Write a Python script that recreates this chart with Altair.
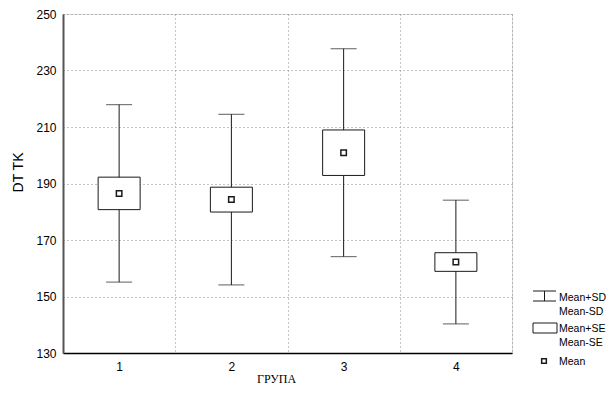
import altair as alt
import pandas as pd

groups = ["1", "2", "3", "4"]
means = [186.5, 184.3, 200.9, 162.2]
se = [5.75, 4.4, 8.05, 3.3]
sd = [31.4, 30.2, 36.8, 21.9]
y_ticks = [130, 150, 170, 190, 210, 230, 250]
legend_sd = ["Mean+SD", "Mean-SD"]
legend_se = ["Mean+SE", "Mean-SE"]
legend_mean = ["Mean"]

df = pd.DataFrame({"group": groups, "mean": means, "se": se, "sd": sd})
df["sd_lo"] = df["mean"] - df["sd"]
df["sd_hi"] = df["mean"] + df["sd"]
df["se_lo"] = df["mean"] - df["se"]
df["se_hi"] = df["mean"] + df["se"]

INK = "#1a1a1a"
FONT = "Liberation Sans"

xscale = alt.Scale(domain=groups, paddingInner=0, paddingOuter=0)
yscale = alt.Scale(domain=[130, 250], nice=False, zero=False)

x_axis = alt.Axis(
    title="ГРУПА", titleFont="Liberation Serif", titleFontSize=12, titleFontWeight="normal",
    titleColor="#000", titleX=213, titleY=25, titleBaseline="middle", titleAlign="center",
    labelAngle=0, labelFont=FONT, labelFontSize=12, labelColor="#000", labelPadding=8,
    ticks=False, tickBand="extent", grid=True, gridDash=[1, 3], gridColor="#888",
    gridWidth=1, domain=True, domainColor="#000", domainWidth=1.5,
)
y_axis = alt.Axis(
    title="DT TK", titleFont=FONT, titleFontSize=14, titleFontWeight="normal",
    titleColor="#000", titleX=-45, titleY=158, titleAngle=270, titleBaseline="middle",
    titleAlign="center",
    values=y_ticks, labelFont=FONT, labelFontSize=12, labelColor="#000", labelPadding=7,
    ticks=False, grid=True, gridDash=[1, 3], gridColor="#888", gridWidth=1,
    domain=True, domainColor="#555", domainWidth=2,
)

base = alt.Chart(df)

def X():
    return alt.X("group:N", scale=xscale, axis=x_axis)

def Y(field):
    return alt.Y(field, scale=yscale, axis=y_axis)

whisker = base.mark_rule(color=INK, strokeWidth=1).encode(
    x=X(), y=Y("sd_lo:Q"), y2="sd_hi:Q",
)
cap_hi = base.mark_tick(color=INK, size=26, thickness=1, orient="horizontal").encode(
    x=X(), y=Y("sd_hi:Q"),
)
cap_lo = base.mark_tick(color=INK, size=26, thickness=1, orient="horizontal").encode(
    x=X(), y=Y("sd_lo:Q"),
)
box = base.mark_bar(size=42, fill="white", stroke=INK, strokeWidth=1).encode(
    x=X(), y=Y("se_lo:Q"), y2="se_hi:Q",
)
mean_pt = base.mark_point(shape="square", size=30, filled=False, color=INK,
                          strokeWidth=1.5, opacity=1).encode(
    x=X(), y=Y("mean:Q"),
)

# legend (drawn at the right of the plot area)
one = pd.DataFrame({"k": [0]})
lg_ibeam_top = alt.Chart(one).mark_rule(color=INK, strokeWidth=1).encode(
    x=alt.value(470), x2=alt.value(493), y=alt.value(277))
lg_ibeam_bot = alt.Chart(one).mark_rule(color=INK, strokeWidth=1).encode(
    x=alt.value(470), x2=alt.value(493), y=alt.value(287))
lg_ibeam_mid = alt.Chart(one).mark_rule(color=INK, strokeWidth=1).encode(
    x=alt.value(481.5), y=alt.value(277), y2=alt.value(287))
lg_box = alt.Chart(one).mark_rect(fill="white", stroke=INK, strokeWidth=1).encode(
    x=alt.value(470), x2=alt.value(494), y=alt.value(309), y2=alt.value(319))
lg_mean = alt.Chart(one).mark_point(shape="square", size=22, filled=False, color=INK,
                                    strokeWidth=1.5, opacity=1).encode(
    x=alt.value(481), y=alt.value(347))

def lg_text(label, ypos):
    return alt.Chart(pd.DataFrame({"label": [label]})).mark_text(
        align="left", baseline="middle", font=FONT, fontSize=10.5, color="#000"
    ).encode(x=alt.value(496), y=alt.value(ypos), text="label:N")

texts = [
    lg_text(legend_sd[0], 284), lg_text(legend_sd[1], 298),
    lg_text(legend_se[0], 315), lg_text(legend_se[1], 329),
    lg_text(legend_mean[0], 348),
]

chart = alt.layer(
    whisker, cap_hi, cap_lo, box, mean_pt,
    lg_ibeam_top, lg_ibeam_bot, lg_ibeam_mid, lg_box, lg_mean, *texts,
).properties(
    width=449, height=339,
    autosize=alt.AutoSizeParams(type="none"),
    padding={"left": 55, "top": 6, "right": 95, "bottom": 33},
).configure_view(
    stroke="#000", strokeWidth=1
).configure(background="white")

chart.save("out.html", embed_options={"renderer": "svg", "actions": False})
